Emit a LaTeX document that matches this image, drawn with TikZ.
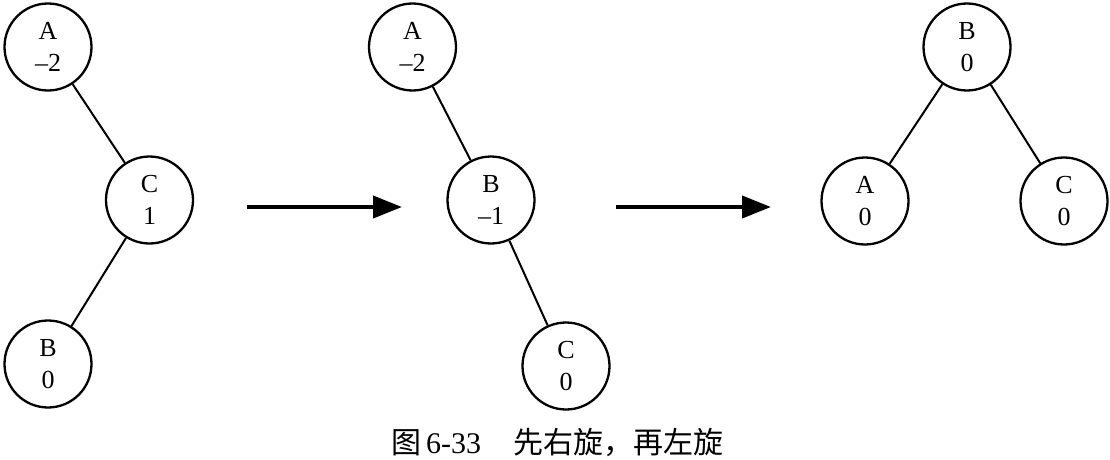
\documentclass[tikz,border=0pt]{standalone}
\usepackage{fontspec}
\setmainfont{Liberation Serif}
\newfontfamily\cjk{Noto Sans CJK SC}
\usetikzlibrary{arrows.meta}
\begin{document}
\begin{tikzpicture}[x=1pt,y=-1pt,
  tnode/.style={circle,draw,line width=2.3pt,minimum size=87pt,inner sep=0pt,
    align=center,font=\fontsize{26}{32}\selectfont},
  edge/.style={line width=2pt},
  bigarrow/.style={line width=4pt,-{Triangle[length=29pt,width=22pt]}}]
\useasboundingbox (0,0) rectangle (1110,460);
% tree 1
\node[tnode] (a1) at (48,47) {A\\–2};
\node[tnode] (c1) at (149.5,200) {C\\1};
\node[tnode] (b1) at (48,364) {B\\0};
\draw[edge] (a1) -- (c1);
\draw[edge] (c1) -- (b1);
% arrow 1
\coordinate (s1) at (247,207);
\coordinate (e1) at (402,207);
\draw[bigarrow] (s1) -- (e1);
% tree 2
\node[tnode] (a2) at (412.5,47) {A\\–2};
\node[tnode] (b2) at (491,200) {B\\–1};
\node[tnode] (c2) at (566,366) {C\\0};
\draw[edge] (a2) -- (b2);
\draw[edge] (b2) -- (c2);
% arrow 2
\coordinate (s2) at (616,207);
\coordinate (e2) at (771,207);
\draw[bigarrow] (s2) -- (e2);
% tree 3
\node[tnode] (b3) at (967,47) {B\\0};
\node[tnode] (a3) at (865,201) {A\\0};
\node[tnode] (c3) at (1064,201) {C\\0};
\draw[edge] (b3) -- (a3);
\draw[edge] (b3) -- (c3);
% caption
\node[font=\fontsize{30}{36}\selectfont,inner sep=0pt] (cap) at (557,442)
  {{\cjk 图}\,6-33\hspace{32pt}{\cjk 先右旋，再左旋}};
\end{tikzpicture}
\end{document}
